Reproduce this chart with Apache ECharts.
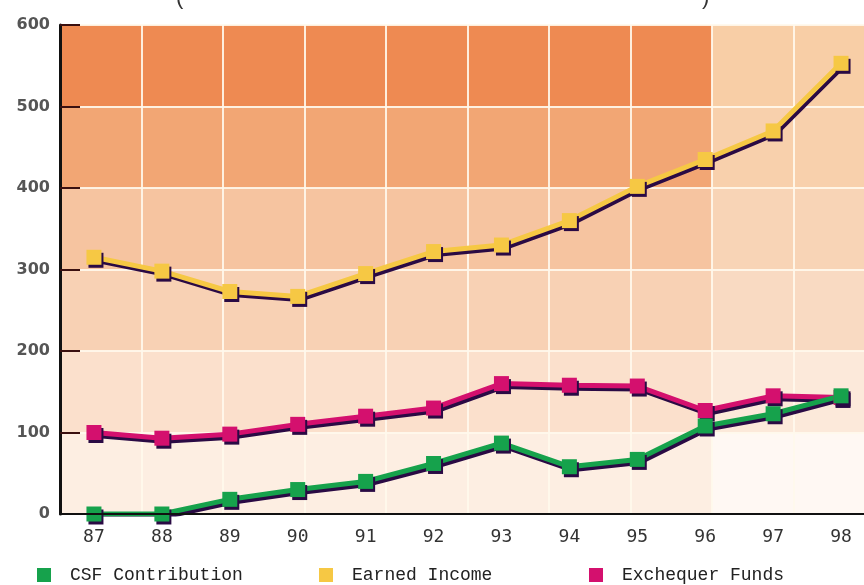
<!DOCTYPE html>
<html>
<head>
<meta charset="utf-8">
<script src="https://cdn.jsdelivr.net/npm/echarts@6/dist/echarts.min.js"></script>
<style>
  html, body { margin: 0; padding: 0; background: #ffffff; overflow: hidden; }
  #chart { width: 880px; height: 585px; }
</style>
</head>
<body>
<div id="chart"></div>
<script>
// Years on the category axis
const years = ['87', '88', '89', '90', '91', '92', '93', '94', '95', '96', '97', '98'];

// Funding series (millions)
const csfContribution = [0, 0, 18, 30, 40, 62, 87, 58, 67, 108, 123, 145];
const earnedIncome    = [315, 298, 273, 267, 295, 322, 330, 360, 402, 435, 470, 553];
const exchequerFunds  = [100, 93, 98, 110, 120, 130, 160, 158, 157, 127, 145, 143];

// Y axis tick values
const yTicks = [0, 100, 200, 300, 400, 500, 600];

// Background band shades, bottom row first: [left block, right block]
const bandColors = [
  ['#fdeee2', '#fff8f3'],
  ['#fbe0cc', '#fce9da'],
  ['#f8d1b4', '#f9dac2'],
  ['#f6c4a0', '#f8d4b6'],
  ['#f2a674', '#f8d0ac'],
  ['#ee8a52', '#f8cea6']
];

// Tiled backdrop on a square 100-unit lattice behind the plot
const cells = [];
bandColors.forEach(function (pair, r) {
  cells.push([
    { xAxis: 0, yAxis: yTicks[r], itemStyle: { color: pair[0] } },
    { xAxis: 800, yAxis: yTicks[r + 1] }
  ]);
  cells.push([
    { xAxis: 800, yAxis: yTicks[r], itemStyle: { color: pair[1] } },
    { xAxis: 1000, yAxis: yTicks[r + 1] }
  ]);
});

const shadow = {
  shadowColor: '#2a0a44',
  shadowBlur: 0,
  shadowOffsetX: 2,
  shadowOffsetY: 3
};

function lineSeries(name, data, color) {
  return {
    name: name,
    type: 'line',
    data: data,
    xAxisIndex: 0,
    yAxisIndex: 0,
    symbol: 'rect',
    symbolSize: 15,
    z: 5,
    lineStyle: Object.assign({ color: color, width: 5 }, shadow),
    itemStyle: Object.assign({ color: color }, shadow),
    emphasis: { disabled: true },
    animation: false
  };
}

const legendText = {
  fontFamily: 'Liberation Mono, DejaVu Sans Mono, monospace',
  fontSize: 18,
  color: '#222',
  padding: [0, 0, 0, 14]
};

const gridLine = { color: 'rgba(255,248,236,0.9)', width: 2 };

const chart = echarts.init(document.getElementById('chart'), null, { renderer: 'canvas' });

chart.setOption({
  backgroundColor: '#ffffff',
  animation: false,
  grid: { left: 60, top: 25, width: 815, height: 489, containLabel: false },
  graphic: [
    { type: 'text', left: 176, top: -13, style: { text: '(', font: '22px Liberation Sans', fill: '#333' } },
    { type: 'text', left: 702, top: -13, style: { text: ')', font: '22px Liberation Sans', fill: '#333' } }
  ],
  legend: [
    {
      data: ['CSF Contribution'], left: 32, top: 561, itemWidth: 14, itemHeight: 14,
      icon: 'rect', textStyle: legendText
    },
    {
      data: ['Earned Income'], left: 314, top: 561, itemWidth: 14, itemHeight: 14,
      icon: 'rect', textStyle: legendText
    },
    {
      data: ['Exchequer Funds'], left: 584, top: 561, itemWidth: 14, itemHeight: 14,
      icon: 'rect', textStyle: legendText
    }
  ],
  xAxis: [
    {
      type: 'category',
      data: years,
      boundaryGap: true,
      axisLine: { lineStyle: { color: '#111', width: 2 } },
      axisTick: { inside: true, length: 10, lineStyle: { color: '#111', width: 2 } },
      axisLabel: {
        margin: 14,
        color: '#333',
        fontSize: 18,
        fontFamily: 'DejaVu Sans Mono, monospace'
      },
      splitLine: { show: false },
      z: 6
    },
    {
      type: 'value',
      min: 0,
      max: 1000,
      interval: 100,
      position: 'top',
      axisLine: { show: false },
      axisTick: { show: false },
      axisLabel: { show: false },
      splitLine: { show: true, lineStyle: gridLine },
      z: 2
    }
  ],
  yAxis: {
    type: 'value',
    min: 0,
    max: 600,
    interval: 100,
    axisLine: { show: true, lineStyle: { color: '#111', width: 3 } },
    axisTick: { show: true, inside: true, length: 20, lineStyle: { color: '#3a1010', width: 2 } },
    axisLabel: {
      margin: 10,
      color: '#555',
      fontSize: 16,
      fontWeight: 'bold',
      fontFamily: 'DejaVu Sans, sans-serif'
    },
    splitLine: { show: true, lineStyle: gridLine },
    z: 2
  },
  series: [
    {
      name: 'backdrop',
      type: 'line',
      data: [],
      xAxisIndex: 1,
      yAxisIndex: 0,
      z: 1,
      silent: true,
      markArea: { silent: true, z: 1, data: cells }
    },
    lineSeries('Earned Income', earnedIncome, '#f6c844'),
    lineSeries('Exchequer Funds', exchequerFunds, '#d4106e'),
    lineSeries('CSF Contribution', csfContribution, '#16a24c')
  ]
});
</script>
</body>
</html>
